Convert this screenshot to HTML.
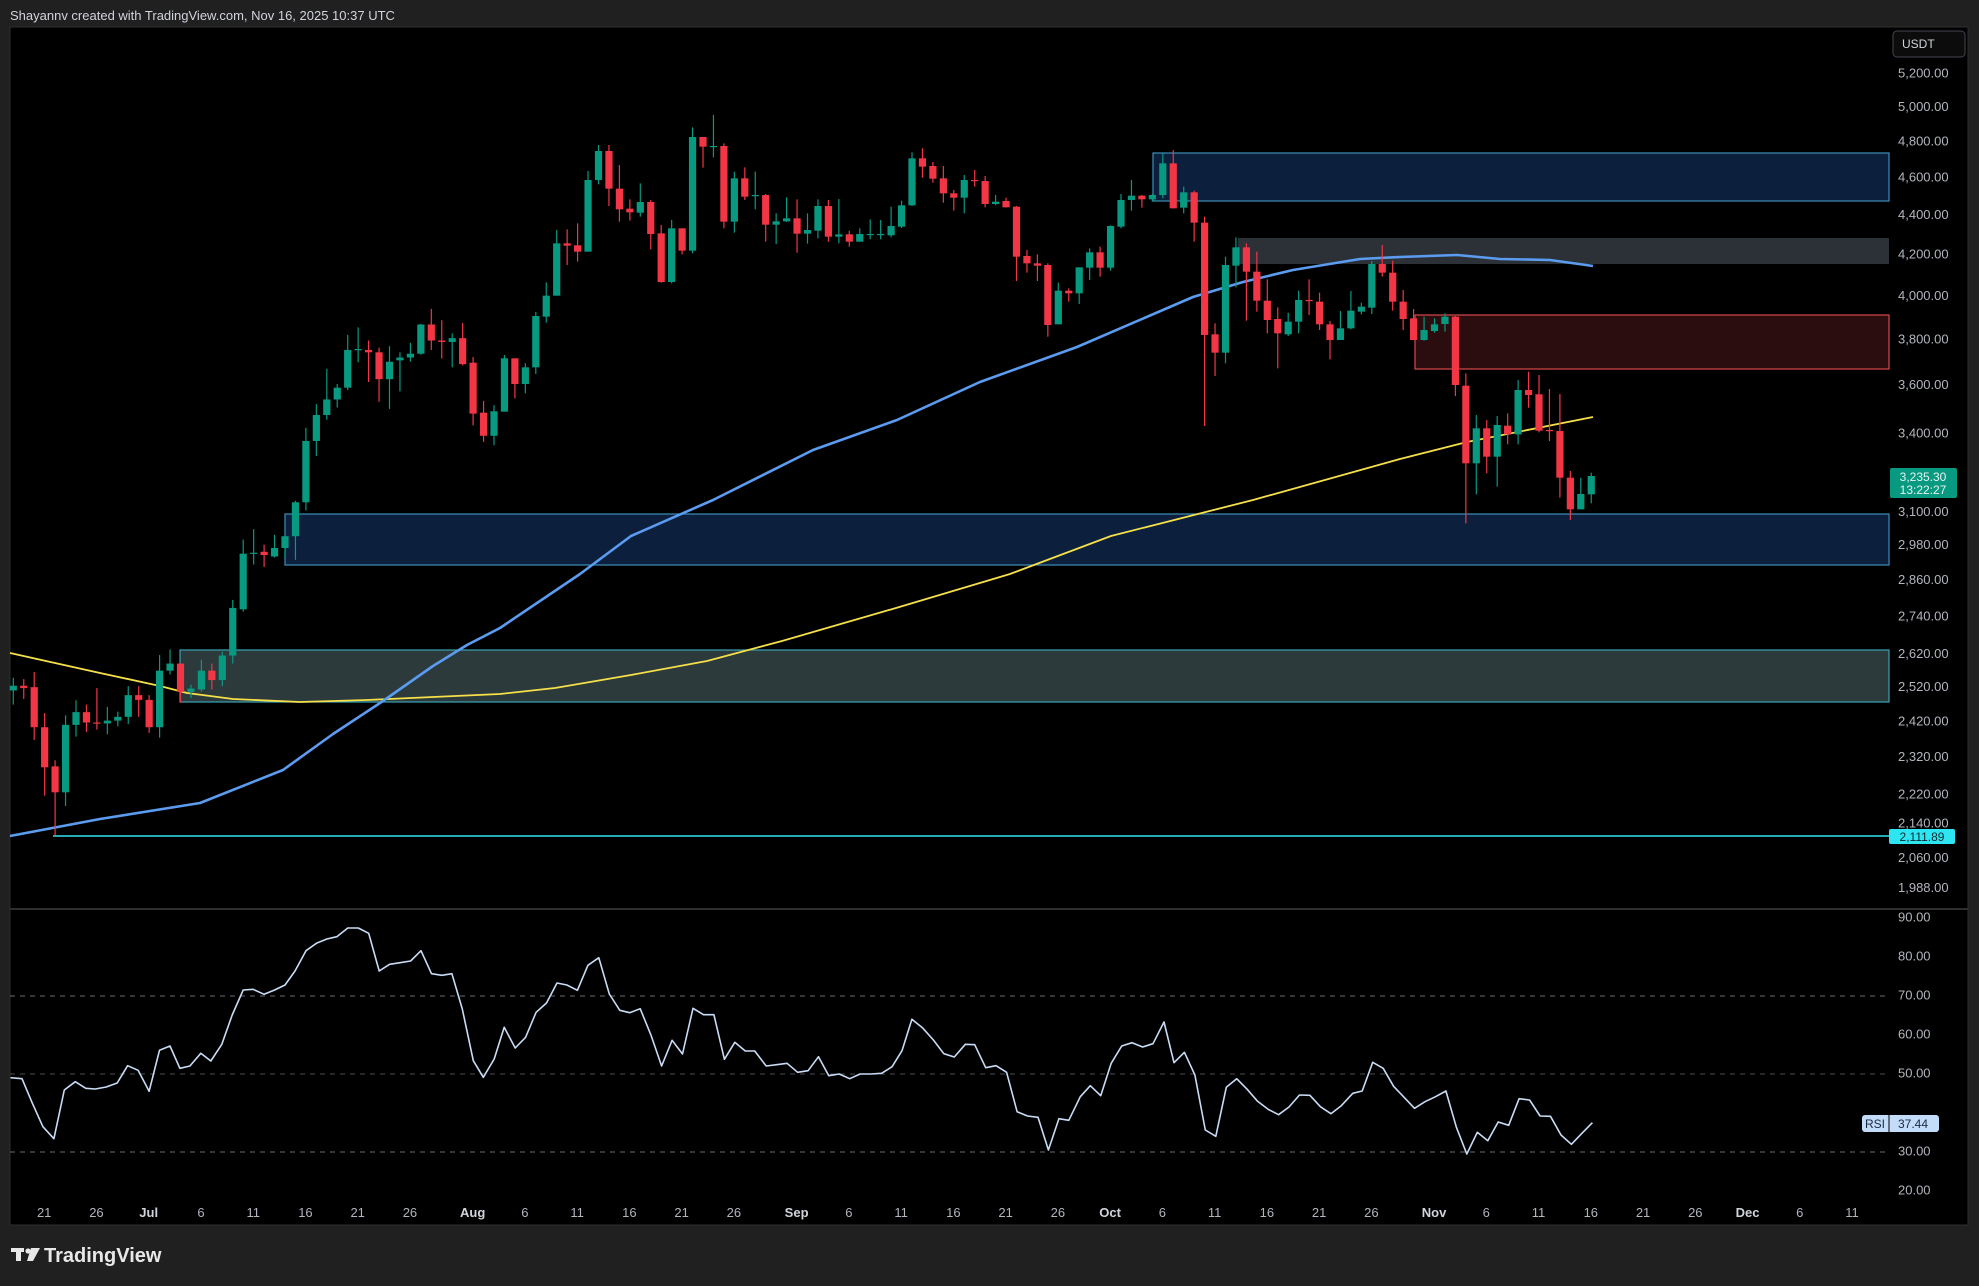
<!DOCTYPE html>
<html><head><meta charset="utf-8"><style>
html,body{margin:0;padding:0;background:#202020;width:1979px;height:1286px;overflow:hidden;font-family:"Liberation Sans",sans-serif}
svg{display:block}
</style></head><body>
<svg id="s" width="1979" height="1286" xmlns="http://www.w3.org/2000/svg">
<rect x="0" y="0" width="1979" height="1286" fill="#202020"/>
<text x="10" y="20" fill="#d1d4dc" font-size="13" font-family="Liberation Sans, sans-serif">Shayannv created with TradingView.com, Nov 16, 2025 10:37 UTC</text>
<rect x="10" y="27" width="1958" height="1198" fill="#000" stroke="#2e2e2e" stroke-width="1"/>
<g id="zones">
<rect x="1153" y="153" width="736" height="48" fill="#0c1f3d" stroke="#3d8fb8" stroke-width="1.2"/>
<rect x="1238" y="238" width="651" height="26" fill="#2b3137"/>
<rect x="1415" y="315" width="474" height="54" fill="#2b0c0f" stroke="#d84a4a" stroke-width="1.2"/>
<rect x="285" y="514" width="1604" height="51" fill="#0c1f3d" stroke="#3d8fb8" stroke-width="1.2"/>
<rect x="180" y="650" width="1709" height="52" fill="#2c3a3b" stroke="#3aa3b5" stroke-width="1.2"/>
<line x1="53" y1="836" x2="1889" y2="836" stroke="#2ee6f2" stroke-width="1.5"/>
</g>
<g id="ma"></g>
<g id="candles"></g>
<line x1="10" y1="909" x2="1968" y2="909" stroke="#2e2e2e" stroke-width="2"/>
<g stroke="#6a6d75" stroke-dasharray="5,5" stroke-width="1">
<line x1="10" y1="996" x2="1889" y2="996"/>
<line x1="10" y1="1074" x2="1889" y2="1074" stroke="#4a4c52"/>
<line x1="10" y1="1152" x2="1889" y2="1152"/>
</g>
<polyline id="rsi" fill="none" stroke="#c8dcf5" stroke-width="1.6" stroke-linejoin="round"/>
<g id="axis" font-family="Liberation Sans, sans-serif" font-size="13" fill="#b2b5be"></g>
<g id="time" font-family="Liberation Sans, sans-serif" font-size="13" fill="#b2b5be" text-anchor="middle"></g>
<rect x="1893" y="31" width="72" height="26" rx="4" fill="#0c0c0c" stroke="#434651"/>
<text x="1902" y="48" fill="#d1d4dc" font-size="12" font-family="Liberation Sans, sans-serif">USDT</text>
<rect x="1890" y="468" width="67" height="30" rx="2" fill="#089981"/>
<text x="1923" y="481" fill="#e6f4f1" font-size="12" text-anchor="middle" font-family="Liberation Sans, sans-serif">3,235.30</text>
<text x="1923" y="494" fill="#e6f4f1" font-size="12" text-anchor="middle" font-family="Liberation Sans, sans-serif">13:22:27</text>
<rect x="1889" y="829" width="66" height="15" rx="2" fill="#2ee6f2"/>
<text x="1922" y="841" fill="#0a2a30" font-size="12" text-anchor="middle" font-family="Liberation Sans, sans-serif">2,111.89</text>
<rect x="1862" y="1115" width="77" height="17" rx="3" fill="#c3dcfa"/>
<line x1="1889" y1="1115" x2="1889" y2="1132" stroke="#000" stroke-width="1"/>
<text x="1875" y="1128" fill="#1a2a44" font-size="12" text-anchor="middle" font-family="Liberation Sans, sans-serif">RSI</text>
<text x="1913" y="1128" fill="#1a2a44" font-size="12" text-anchor="middle" font-family="Liberation Sans, sans-serif">37.44</text>
<g fill="#e8e8e8">
<rect x="11" y="1248" width="13" height="4"/>
<rect x="16" y="1248" width="5" height="13"/>
<circle cx="28" cy="1251" r="2.6"/>
<polygon points="31,1248 40,1248 33,1261 27,1261"/>
</g>
<text x="44" y="1262" fill="#e8e8e8" font-size="20" font-weight="bold" font-family="Liberation Sans, sans-serif">TradingView</text>
</svg>
<script>
(function(){
var NS="http://www.w3.org/2000/svg";
function el(t,a,p){var e=document.createElementNS(NS,t);for(var k in a)e.setAttribute(k,a[k]);p.appendChild(e);return e;}
var A=[[1252,1242,1225,1282],[1242,1247,1228,1270],[1245,1330,1213,1357],[1330,1415,1300,1475],[1413,1468,1400,1560],[1468,1325,1305,1497],[1325,1298,1273,1350],[1298,1320,1282,1340],[1320,1322,1247,1335],[1322,1316,1287,1345],[1316,1308,1297,1328],[1308,1262,1243,1323],[1262,1272,1243,1308],[1272,1330,1262,1342],[1330,1210,1177,1352],[1210,1195,1165,1218],[1195,1255,1195,1278],[1255,1248,1240,1268],[1250,1210,1187,1255],[1210,1230,1195,1250],[1230,1178,1170,1243],[1178,1077,1060,1195],[1080,962,932,1085],[962,960,910,985],[958,965,943,990],[968,950,922,970],[950,925,925,970],[925,853,850,975],[853,723,695,870],[723,668,645,755],[668,635,570,678],[635,610,602,652],[610,530,498,615],[530,528,482,556],[530,535,510,598],[535,592,525,640],[592,555,522,655],[552,546,535,618],[546,538,515,555],[538,476,475,540],[476,510,443,530],[510,513,467,548],[513,505,495,567],[505,560,473,563],[557,665,545,690],[663,712,638,725],[712,660,647,732]];
var B=[[935,775,765,935],[775,852,775,895],[852,802,790,880],[802,648,636,822],[650,587,547,668],[587,430,390,587],[430,437,388,495],[436,455,370,485],[455,240,213,455],[240,153,135,253],[153,266,135,318],[266,328,195,365],[326,337,298,362],[338,306,250,350],[306,402,300,448],[400,546,375,548],[546,385,360,550],[385,452,385,463],[452,111,82,460],[111,140,111,203],[140,138,45,172],[138,365,130,385],[365,235,215,398],[235,290,202,300],[288,285,215,328],[285,374,282,425],[374,364,340,432],[364,355,292,366],[355,401,298,458],[401,390,340,431],[392,318,298,415],[318,410,300,425],[410,403,297,430],[403,425,392,440],[425,402,385,425],[404,402,358,418],[404,402,360,418],[406,378,320,412],[380,316,302,384],[316,175,157,318],[175,200,145,233],[198,236,186,248],[235,280,198,308],[280,293,270,332],[293,240,225,340],[240,243,210,260]];
var C=[[243,312,228,322],[312,305,285,315],[303,322,293,322],[320,470,318,543],[468,490,450,518],[490,497,463,543],[495,675,490,710],[673,572,548,673],[572,580,565,605],[580,502,502,612],[503,457,445,540],[457,503,440,530],[503,378,376,512],[380,300,282,385],[300,287,240,332],[287,298,285,323],[298,285,282,305],[285,190,160,295],[190,325,150,325],[323,277,260,340],[277,368,272,425],[368,705,350,978],[703,758,670,828],[758,495,470,790],[497,442,412,562],[442,515,430,662],[515,602,455,635],[602,660,538,700],[657,700,622,805],[703,665,638,708],[665,600,572,700],[600,602,538,645],[605,673,578,690],[673,720,663,778],[720,685,633,720],[685,632,573,688],[635,620,608,643],[623,492,483,642],[492,518,435,530],[518,605,482,632],[605,657,570,690],[655,720,627,720],[720,690,650,722],[693,673,655,698],[672,650,640,695],[650,855,648,888]];
var D=[[737,970,700,1150],[970,865,825,1063],[865,950,840,1000],[950,855,828,1040],[857,883,820,913],[883,750,720,913],[750,765,695,803],[763,872,705,877],[870,872,747,903],[873,1013,762,1073],[1013,1108,993,1140],[1108,1062,1013,1108],[1063,1008,998,1090]];
var data=[];
A.forEach(function(c){data.push(c.map(function(v){return 100+v*0.4716;}));});
B.forEach(function(c){data.push(c.map(function(v){return 100+v/3;}));});
C.forEach(function(c){data.push(c.map(function(v){return 100+v/3;}));});
D.forEach(function(c){data.push(c.map(function(v){return 140+v/3;}));});
var g=document.getElementById('candles');
data.forEach(function(c,i){
 var x=13.3+10.45*i,o=c[0],cl=c[1],h=c[2],l=c[3];
 var up=cl<=o,col=up?'#089981':'#f23645';
 var top=Math.min(o,cl),bot=Math.max(o,cl);
 h=Math.min(h,top);l=Math.max(l,bot);
 el('line',{x1:x,y1:h,x2:x,y2:l,stroke:col,'stroke-width':1.2},g);
 el('rect',{x:x-3.6,y:top,width:7.2,height:Math.max(1.2,bot-top),fill:col},g);
});
var ma=document.getElementById('ma');
var blue=[[10,836],[100,819],[200,803],[283,770],[333,734],[383,701],[433,666],[467,645],[500,628],[580,574],[631,536],[713,500],[813,450],[897,420],[980,382],[1077,347],[1193,297],[1243,282],[1293,270],[1360,259],[1400,257],[1457,255],[1500,259],[1550,260],[1593,266]];
var yel=[[10,653],[100,673],[160,686],[187,693],[233,699],[300,702],[367,700],[433,697],[500,694],[555,688],[631,675],[707,661],[782,641],[896,608],[1010,574],[1111,536],[1253,500],[1400,459],[1467,442],[1593,417]];
function pts(a){return a.map(function(p){return p[0]+','+p[1];}).join(' ');}
el('polyline',{points:pts(yel),fill:'none',stroke:'#f5e04a','stroke-width':1.8,'stroke-linejoin':'round'},ma);
el('polyline',{points:pts(blue),fill:'none',stroke:'#5b9cf0','stroke-width':2.6,'stroke-linejoin':'round'},ma);
var r1=[[20,533],[42,536],[62,610],[82,680],[103,716],[123,570],[144,545],[164,565],[182,567],[203,561],[224,549],[244,497],[264,511],[285,574],[305,451],[325,438],[344,505],[363,498],[384,460],[403,483],[424,433],[444,345],[465,270],[484,268],[505,283],[525,270],[545,255],[564,213],[585,152],[605,130],[625,117],[644,110],[665,84],[685,84],[705,100],[725,213],[745,193],[765,188],[785,183],[805,152],[825,221],[845,226],[864,221],[884,327],[905,482],[924,532],[945,477],[964,382],[985,444],[1005,412],[1025,337],[1045,309],[1065,249],[1084,255],[1104,271],[1124,196],[1145,173],[1165,282],[1185,331],[1204,338],[1224,326],[1245,407],[1265,498],[1285,421],[1305,462],[1325,325],[1345,344],[1365,344],[1385,478],[1405,427],[1425,453],[1443,453],[1465,498],[1485,494],[1505,490],[1525,517],[1545,512],[1565,470]];
var r2=[[55,527],[75,522],[95,536],[115,522],[135,522],[156,520],[176,500],[195,452],[214,358],[234,383],[255,420],[275,461],[295,471],[316,433],[334,434],[355,503],[375,497],[395,517],[415,635],[435,648],[455,652],[475,750],[495,656],[514,661],[536,590],[555,557],[575,587],[595,490],[615,438],[635,428],[655,441],[675,431],[696,366],[715,488],[735,457],[755,525],[775,690],[795,709],[815,562],[835,536],[855,568],[875,604],[895,628],[915,644],[935,621],[955,585],[975,586],[995,620],[1015,641],[1035,617],[1057,580],[1075,573],[1095,487],[1115,505],[1135,559],[1155,592],[1175,625],[1195,605],[1215,590],[1235,573],[1255,682],[1275,762],[1295,697],[1315,722],[1335,666],[1355,676],[1375,596],[1395,600],[1415,648],[1435,649],[1455,705],[1475,733],[1495,700],[1515,668]];
var rp=[];
r1.forEach(function(p){rp.push((p[0]/1.912).toFixed(1)+','+(900+p[1]/3).toFixed(1));});
r2.forEach(function(p){rp.push((800+p[0]/1.912).toFixed(1)+','+(900+p[1]/3).toFixed(1));});
document.getElementById('rsi').setAttribute('points',rp.join(' '));
var ax=document.getElementById('axis');
var prices=[5200,5000,4800,4600,4400,4200,4000,3800,3600,3400,3100,2980,2860,2740,2620,2520,2420,2320,2220,2140,2060,1988];
prices.forEach(function(p){
 var y=73.2+846.9*(8.5564-Math.log(p));
 if(p==2140)y-=2;
 var t=el('text',{x:1898,y:y+4.5},ax);
 t.textContent=(p>=1000?Math.floor(p/1000)+','+String(p%1000).padStart(3,'0'):p)+'.00';
});
[90,80,70,60,50,40,30,20].forEach(function(v){
 if(v==40)return;
 var y=917+(90-v)*3.9;
 var t=el('text',{x:1898,y:y+4.5},ax);t.textContent=v+'.00';
});
var tg=document.getElementById('time');
var labs=[[0,'21'],[5,'26'],[10,'Jul',1],[15,'6'],[20,'11'],[25,'16'],[30,'21'],[35,'26'],[41,'Aug',1],[46,'6'],[51,'11'],[56,'16'],[61,'21'],[66,'26'],[72,'Sep',1],[77,'6'],[82,'11'],[87,'16'],[92,'21'],[97,'26'],[102,'Oct',1],[107,'6'],[112,'11'],[117,'16'],[122,'21'],[127,'26'],[133,'Nov',1],[138,'6'],[143,'11'],[148,'16'],[153,'21'],[158,'26'],[163,'Dec',1],[168,'6'],[173,'11']];
labs.forEach(function(l){
 var a={x:44.2+10.45*l[0],y:1217};
 if(l[2]){a['font-weight']='bold';a.fill='#d1d4dc';}
 var t=el('text',a,tg);t.textContent=l[1];
});
})();
</script>
</body></html>
